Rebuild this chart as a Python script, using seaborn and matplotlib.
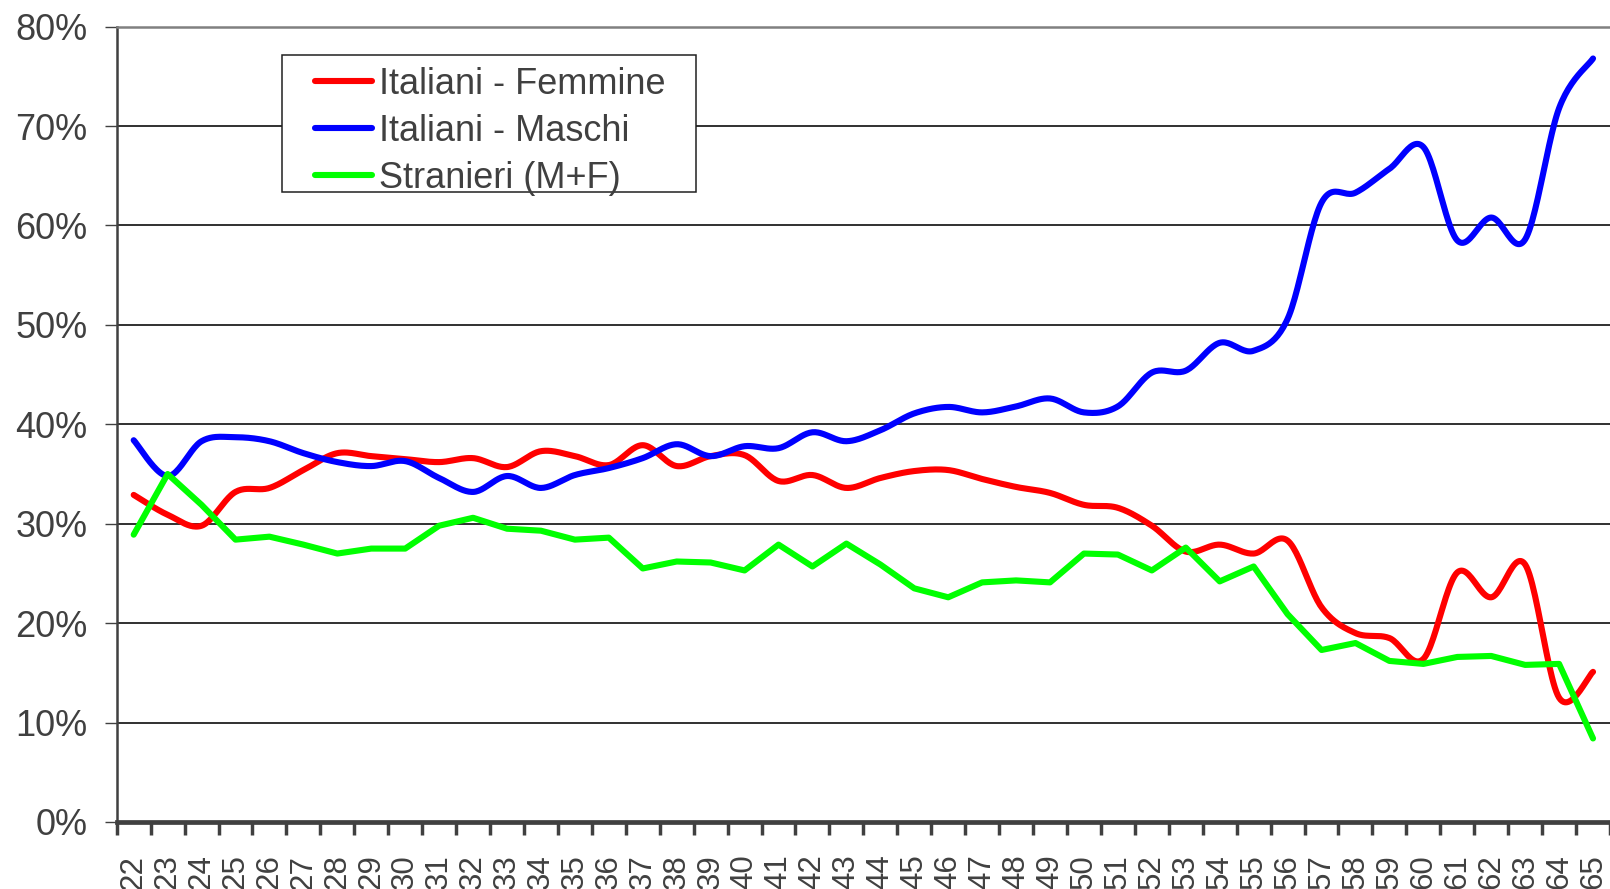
import numpy as np
import pandas as pd
import matplotlib
matplotlib.use("Agg")
import matplotlib.pyplot as plt
from matplotlib.patches import Rectangle
from matplotlib.ticker import FixedLocator
import seaborn as sns

# Data (percent) by age
ages = list(range(22, 66))
femmine = [32.9, 30.9, 29.8, 33.2, 33.6, 35.4, 37.1, 36.8, 36.5, 36.2,
           36.6, 35.7, 37.3, 36.8, 35.9, 37.9, 35.8, 36.8, 36.9, 34.3,
           34.9, 33.6, 34.6, 35.3, 35.4, 34.5, 33.7, 33.1, 31.9, 31.6,
           29.8, 27.2, 27.9, 27.0, 28.3, 21.6, 19.0, 18.5, 16.4, 25.1,
           22.6, 25.9, 12.5, 15.1]
maschi = [38.4, 34.8, 38.3, 38.7, 38.3, 37.1, 36.2, 35.8, 36.3, 34.6,
          33.2, 34.8, 33.6, 34.9, 35.6, 36.6, 38.0, 36.8, 37.8, 37.6,
          39.2, 38.3, 39.4, 41.1, 41.75, 41.2, 41.8, 42.6, 41.2, 41.8,
          45.2, 45.4, 48.2, 47.4, 50.6, 62.3, 63.3, 65.7, 67.9, 58.5,
          60.8, 58.6, 71.8, 76.8]
stranieri = [28.9, 35.0, 31.9, 28.4, 28.7, 27.9, 27.0, 27.5, 27.5, 29.8,
             30.6, 29.5, 29.3, 28.4, 28.6, 25.5, 26.2, 26.1, 25.3, 27.9,
             25.7, 28.0, 25.9, 23.5, 22.6, 24.1, 24.3, 24.1, 27.0, 26.9,
             25.3, 27.6, 24.2, 25.7, 20.9, 17.3, 18.0, 16.2, 15.9, 16.6,
             16.7, 15.8, 15.9, 8.4]

labels = ["Italiani - Femmine", "Italiani - Maschi", "Stranieri (M+F)"]
colors = ["#FF0000", "#0000FF", "#00FF00"]
TXT = "#404040"


def smooth(x, y, n=24):
    # Catmull-Rom curve like the Excel "smoothed line" option
    x = np.asarray(x, float)
    y = np.asarray(y, float)
    px = np.concatenate([[x[0]], x, [x[-1]]])
    py = np.concatenate([[y[0]], y, [y[-1]]])
    t = np.linspace(0, 1, n, endpoint=False)
    xs, ys = [], []
    for i in range(1, len(px) - 2):
        for p, out in ((px, xs), (py, ys)):
            p0, p1, p2, p3 = p[i - 1], p[i], p[i + 1], p[i + 2]
            out.extend(0.5 * (2 * p1 + (-p0 + p2) * t
                              + (2 * p0 - 5 * p1 + 4 * p2 - p3) * t ** 2
                              + (-p0 + 3 * p1 - 3 * p2 + p3) * t ** 3))
    xs.append(x[-1])
    ys.append(y[-1])
    return np.array(xs), np.array(ys)


sns.set_style("white")
plt.rcParams["font.family"] = ["Liberation Sans", "DejaVu Sans"]

fig = plt.figure(figsize=(16.1, 8.89), dpi=100)
ax = fig.add_axes([0.0725, 0.0754, 0.9275, 0.8946])

pos = np.arange(len(ages))
for name, vals, col, smoothed in zip(labels, [femmine, maschi, stranieri], colors, [True, True, False]):
    if smoothed:
        xs, ys = smooth(pos, vals)
    else:
        xs, ys = pos, np.asarray(vals)
    df = pd.DataFrame({"x": xs, "y": ys})
    sns.lineplot(data=df, x="x", y="y", ax=ax, color=col, linewidth=4.4,
                 sort=False, estimator=None, label=name,
                 solid_capstyle="round", solid_joinstyle="round", clip_on=False)

ax.set_xlim(-0.5, len(ages) - 0.5)
ax.set_ylim(0, 80)
ax.set_xlabel("")
ax.set_ylabel("")

# y axis
ax.set_yticks(range(0, 81, 10))
ax.set_yticklabels([f"{v}%" for v in range(0, 81, 10)])
ax.tick_params(axis="y", direction="out", length=9, width=1, color=TXT,
               labelsize=26, labelcolor=TXT, pad=12, left=True)
ax.yaxis.grid(True, color="#202020", linewidth=1.3)
ax.set_axisbelow(True)

# x axis: labels at centres, tick marks between categories
ax.set_xticks(pos)
ax.set_xticklabels([str(a) for a in ages], rotation=90)
ax.tick_params(axis="x", which="major", length=0, labelsize=22.5,
               labelcolor=TXT, pad=23.5)
ax.xaxis.set_minor_locator(FixedLocator(np.arange(-0.5, len(ages), 1.0)))
ax.tick_params(axis="x", which="minor", direction="out", length=9, width=2.5,
               color=TXT, bottom=True)

ax.spines["right"].set_visible(False)
ax.spines["top"].set_color("#808080")
ax.spines["top"].set_linewidth(1.8)
ax.spines["left"].set_color(TXT)
ax.spines["left"].set_linewidth(1.8)
ax.spines["bottom"].set_color(TXT)
ax.spines["bottom"].set_linewidth(3.4)

# legend box
handles, labs = ax.get_legend_handles_labels()
ax.get_legend().remove()
fig.patches.append(Rectangle((0.175, 0.784), 0.2571, 0.1544, transform=fig.transFigure,
                             facecolor="white", edgecolor="#202020", linewidth=1.1, zorder=1))
fig.legend(handles, labs, loc="upper left", bbox_to_anchor=(315 / 1610, 1 - 67 / 889),
           frameon=False, borderpad=0, borderaxespad=0, fontsize=26,
           handlelength=1.58, handletextpad=0.2, labelspacing=0.33,
           labelcolor=TXT)

fig.savefig("out.png", dpi=100, facecolor="white")
